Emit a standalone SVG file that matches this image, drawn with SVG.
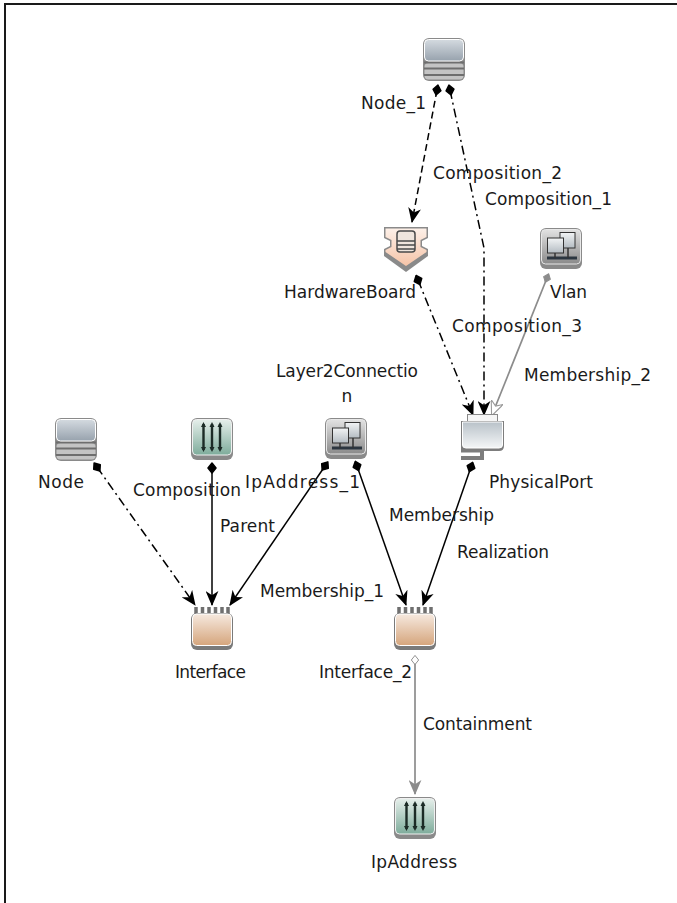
<svg xmlns="http://www.w3.org/2000/svg" width="677" height="903" viewBox="0 0 677 903">
<style>
text{font-family:"DejaVu Sans","Liberation Sans",sans-serif;font-size:17px;fill:#1a1a1a;text-anchor:middle}
.c{fill:none;stroke:#000;stroke-width:1.5}
.d1{stroke-dasharray:7 4}
.d2{stroke-dasharray:9 4 2 4}
.g{stroke:#8c8c8c;stroke-width:1.7}
</style>
<defs>
<linearGradient id="gs" x1="0" y1="0" x2="0" y2="1"><stop offset="0" stop-color="#d4dae0"/><stop offset="1" stop-color="#97a2ad"/></linearGradient>
<linearGradient id="gpp" x1="0" y1="0" x2="0" y2="1"><stop offset="0" stop-color="#b9c2c9"/><stop offset="1" stop-color="#f4f6f7"/></linearGradient>
<linearGradient id="gg" x1="0" y1="0" x2="0" y2="1"><stop offset="0" stop-color="#e6efeb"/><stop offset="1" stop-color="#7eac9b"/></linearGradient>
<linearGradient id="go" x1="0" y1="0" x2="0" y2="1"><stop offset="0" stop-color="#f6e9df"/><stop offset="1" stop-color="#d5a57c"/></linearGradient>
<linearGradient id="gp" x1="0" y1="0" x2="0" y2="1"><stop offset="0" stop-color="#fdf0e8"/><stop offset="1" stop-color="#f6c4a8"/></linearGradient>
<linearGradient id="gm" x1="0" y1="0" x2="0" y2="1"><stop offset="0" stop-color="#e2e2e2"/><stop offset="1" stop-color="#8a8a8a"/></linearGradient>
<linearGradient id="gw" x1="0" y1="0" x2="0" y2="1"><stop offset="0" stop-color="#f2f4f5"/><stop offset="1" stop-color="#b4bcc2"/></linearGradient>
<marker id="ah" viewBox="0 0 14 12" refX="13" refY="6" markerWidth="15" markerHeight="13" markerUnits="userSpaceOnUse" orient="auto"><path d="M0 0L14 6L0 12L4 6Z" fill="#000"/></marker>
<marker id="ahg" viewBox="0 0 14 12" refX="13" refY="6" markerWidth="15" markerHeight="13" markerUnits="userSpaceOnUse" orient="auto"><path d="M0 0L14 6L0 12L4 6Z" fill="#8c8c8c"/></marker>
<marker id="aho" viewBox="0 0 14 12" refX="13" refY="6" markerWidth="15" markerHeight="13" markerUnits="userSpaceOnUse" orient="auto"><path d="M0 0L14 6L0 12L4 6Z" fill="#fff" stroke="#999"/></marker>
<marker id="db" viewBox="0 0 12 12" refX="6" refY="6" markerWidth="12" markerHeight="12" markerUnits="userSpaceOnUse" orient="auto"><path d="M1 6L6 2L11 6L6 10Z" fill="#000" stroke="#000" stroke-width="1.500" stroke-linejoin="round"/></marker>
<marker id="dg" viewBox="0 0 12 12" refX="6" refY="6" markerWidth="11" markerHeight="11" markerUnits="userSpaceOnUse" orient="auto"><path d="M1 6L6 2L11 6L6 10Z" fill="#8c8c8c" stroke="#8c8c8c" stroke-linejoin="round"/></marker>
<marker id="dw" viewBox="0 0 12 12" refX="6" refY="6" markerWidth="11" markerHeight="11" markerUnits="userSpaceOnUse" orient="auto"><path d="M1 6L6 2L11 6L6 10Z" fill="#fff" stroke="#888"/></marker>
<g id="server">
<rect x="0" y="0" width="42" height="43" rx="6" fill="#8a8a8a"/>
<rect x="1.500" y="25" width="39" height="16.500" rx="4" fill="#c4c4c4"/>
<path d="M1 24.500H41M1 30.500H41M1 37H41" stroke="#6e6e6e" stroke-width="2"/>
<rect x="1.500" y="1.500" width="39" height="21.500" rx="4" fill="url(#gs)" stroke="#fff"/>
</g>
<g id="pipes">
<rect x="0" y="0" width="42" height="42" rx="6" fill="#8a8a8a"/>
<rect x="1.500" y="1.500" width="39" height="35.500" rx="4" fill="url(#gg)" stroke="#f0f0f0"/>
<path d="M12.500 6V32M21 6V32M29 6V32" stroke="#1c2b26" stroke-width="2.400"/>
<path d="M10 9L12.500 4L15 9ZM18.500 9L21 4L23.500 9ZM26.500 9L29 4L31.500 9ZM10 29L12.500 34L15 29ZM18.500 29L21 34L23.500 29ZM26.500 29L29 34L31.500 29Z" fill="#1c2b26"/>
</g>
<g id="net">
<rect x="0" y="0" width="42" height="41" rx="6" fill="#8a8a8a"/>
<rect x="1.500" y="1.500" width="39" height="34.500" rx="4" fill="url(#gm)" stroke="#e8e8e8"/>
<rect x="20" y="4.500" width="15" height="15.500" fill="url(#gw)" stroke="#333"/>
<rect x="7.500" y="10" width="16" height="15" fill="url(#gw)" stroke="#333"/>
<path d="M7 30H37" stroke="#2c3640" stroke-width="3"/>
<path d="M15 25V30M28 20V30" stroke="#333" stroke-width="1.500"/>
</g>
<g id="iface">
<path d="M5 -1V6M11.500 -1V6M18 -1V6M24.500 -1V6M31 -1V6M37 -1V6" stroke="#6f6f6f" stroke-width="3.500"/>
<rect x="0" y="5" width="42" height="37" rx="6" fill="#7a7a7a"/>
<rect x="1.500" y="6" width="39" height="31.500" rx="4" fill="url(#go)" stroke="#fff"/>
</g>
</defs>
<rect width="677" height="903" fill="#fff"/>
<path d="M5 903V4H677" fill="none" stroke="#1a1a1a" stroke-width="2"/>
<g id="connectors">
<path class="c d1" d="M437 90L412 222" marker-start="url(#db)" marker-end="url(#ah)"/>
<path class="c d2" d="M450 90L484 248L484 415" marker-start="url(#db)" marker-end="url(#ah)"/>
<path class="c d2" d="M418 280L473 415" marker-start="url(#db)" marker-end="url(#ah)"/>
<path class="c g" d="M547 278L492 415" marker-start="url(#dg)" marker-end="url(#aho)"/>
<path class="c" d="M471 467L423 605" marker-start="url(#db)" marker-end="url(#ah)"/>
<path class="c" d="M357 466L406 605" marker-start="url(#db)" marker-end="url(#ah)"/>
<path class="c" d="M325 466L230 605" marker-start="url(#db)" marker-end="url(#ah)"/>
<path class="c" d="M212 468V605" marker-start="url(#db)" marker-end="url(#ah)"/>
<path class="c d2" d="M97 467L195 605" marker-start="url(#db)" marker-end="url(#ah)"/>
<path class="c g" d="M415 660V794" marker-start="url(#dw)" marker-end="url(#ahg)"/>
</g>
<g id="n-node1"><use href="#server" x="423" y="38"/><text x="393.500" y="109" textLength="65" lengthAdjust="spacing">Node_1</text></g>
<g id="n-hwboard">
<path d="M384 227H428V238L422 241V246L428 249V256L406 272L384 256V249L390 246V241L384 238Z" fill="#8a8a8a"/>
<path d="M385.500 228.500H426.500V237L420.500 240V247L426.500 250V252L406 266L385.500 252V250L391.500 247V240L385.500 237Z" fill="url(#gp)"/>
<rect x="397" y="231" width="18" height="21" rx="3" fill="#efe5dd" stroke="#4a4a4a" stroke-width="1.500"/>
<path d="M397 241H415M397 245H415M397 249H415" stroke="#4a4a4a" stroke-width="1.500"/>
<text x="350" y="298" textLength="132" lengthAdjust="spacing">HardwareBoard</text></g>
<g id="n-vlan"><use href="#net" x="540" y="228"/><text x="568.500" y="298" textLength="37" lengthAdjust="spacing">Vlan</text></g>
<g id="n-l2c"><use href="#net" x="325" y="418"/><text x="347" y="377" textLength="142" lengthAdjust="spacing">Layer2Connectio</text><text x="347" y="402">n</text></g>
<g id="n-pport">
<rect x="467.500" y="414.500" width="30" height="8" fill="#f6f6f6" stroke="#888"/>
<path d="M461 421H504V446Q504 451 499 451H484V460H461V456H480V452.500H461V449Q461 449 461 444Z" fill="#7d7d7d"/>
<path d="M462.500 422H502.500V445Q502.500 448 499 448H466Q462.500 448 462.500 445Z" fill="url(#gpp)" stroke="#fff"/>
<text x="541" y="488" textLength="104" lengthAdjust="spacing">PhysicalPort</text></g>
<g id="n-node"><use href="#server" x="55" y="418"/><text x="61" y="488" textLength="46" lengthAdjust="spacing">Node</text></g>
<g id="n-comp"><use href="#pipes" x="191" y="418"/><text x="187" y="496" textLength="108" lengthAdjust="spacing">Composition</text></g>
<g id="n-iface"><use href="#iface" x="191" y="608"/><text x="210.500" y="678" textLength="71" lengthAdjust="spacing">Interface</text></g>
<g id="n-iface2"><use href="#iface" x="394" y="608"/><text x="365.500" y="678" textLength="93" lengthAdjust="spacing">Interface_2</text></g>
<g id="n-ip"><use href="#pipes" x="394" y="797"/><text x="414" y="868" textLength="86" lengthAdjust="spacing">IpAddress</text></g>
<g id="labels">
<text x="497.500" y="179" textLength="129" lengthAdjust="spacing">Composition_2</text>
<text x="548.500" y="205" textLength="127" lengthAdjust="spacing">Composition_1</text>
<text x="517" y="332" textLength="130" lengthAdjust="spacing">Composition_3</text>
<text x="587.500" y="381" textLength="127" lengthAdjust="spacing">Membership_2</text>
<text x="441.500" y="521" textLength="105" lengthAdjust="spacing">Membership</text>
<text x="302.500" y="488" textLength="115" lengthAdjust="spacing">IpAddress_1</text>
<text x="247.500" y="532" textLength="55" lengthAdjust="spacing">Parent</text>
<text x="503" y="558" textLength="92" lengthAdjust="spacing">Realization</text>
<text x="322" y="597" textLength="124" lengthAdjust="spacing">Membership_1</text>
<text x="477.500" y="730" textLength="109" lengthAdjust="spacing">Containment</text>
</g>
</svg>
